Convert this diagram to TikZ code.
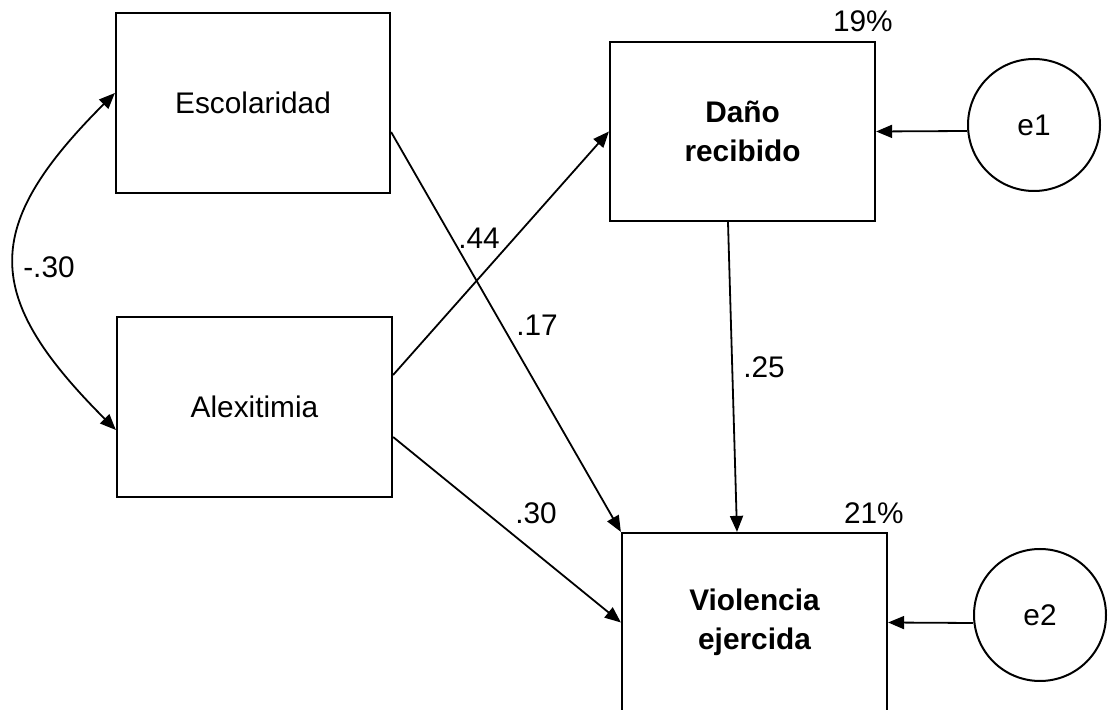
\documentclass[tikz,border=0pt]{standalone}
\usepackage{fontspec}
\setmainfont{Liberation Sans}
\usetikzlibrary{arrows.meta}
\begin{document}
\begin{tikzpicture}[x=0.5pt,y=-0.5pt,
  every node/.style={font=\fontsize{14.9}{19.5}\selectfont},
  box/.style={draw,line width=1.1pt,inner sep=0pt,align=center},
  boldbox/.style={box,font=\fontsize{14.9}{19.5}\selectfont\bfseries},
  err/.style={draw,circle,line width=1pt,minimum size=66pt,inner sep=0pt},
  arr/.style={line width=0.9pt,-{Triangle[length=8pt,width=6.5pt]}},
  dblarr/.style={line width=0.9pt,{Triangle[length=8pt,width=6.5pt]}-{Triangle[length=8pt,width=6.5pt]}},
  lab/.style={inner sep=0pt}]
\useasboundingbox (0,0) rectangle (1120,710);

% boxes
\node[box,minimum width=137pt,minimum height=90pt] (esc) at (253,103) {Escolaridad};
\node[box,minimum width=137.5pt,minimum height=90pt] (alex) at (254.5,407) {Alexitimia};
\node[boldbox,minimum width=132.5pt,minimum height=89.5pt] (dano) at (742.5,131.5) {Daño\\recibido};
\node[boldbox,minimum width=132.5pt,minimum height=89.5pt] (viol) at (754.5,622.5) {Violencia\\ejercida};

% error terms
\node[err] (e1) at (1034,125) {e1};
\node[err] (e2) at (1040,615) {e2};

% R^2 labels
\node[lab,anchor=base east] (r1) at ([xshift=8.5pt,yshift=4.5pt]dano.north east) {19\%};
\node[lab,anchor=base east] (r2) at ([xshift=8pt,yshift=4pt]viol.north east) {21\%};

% paths
\draw[dblarr] ([yshift=5pt]esc.west) .. controls +(-134,134) and +(-134,-134) .. ([yshift=-11.5pt]alex.west);
\draw[arr] ([yshift=-14.5pt]esc.east) -- (viol.north west);
\draw[arr] ([yshift=16pt]alex.east) -- (dano.west);
\draw[arr] ([yshift=-15pt]alex.east) -- (viol.west);
\draw[arr] ([xshift=-7.25pt]dano.south) -- ([xshift=-8.75pt]viol.north);
\draw[arr] ([yshift=-3pt]e1.west) -- (dano.east);
\draw[arr] ([yshift=-4pt]e2.west) -- (viol.east);

% coefficient labels
\node[lab] (c30a) at (49,267) {-.30};
\node[lab] (c44) at (479,238) {.44};
\node[lab] (c17) at (537,325) {.17};
\node[lab] (c25) at (764,367) {.25};
\node[lab] (c30b) at (536,513) {.30};
\end{tikzpicture}
\end{document}
